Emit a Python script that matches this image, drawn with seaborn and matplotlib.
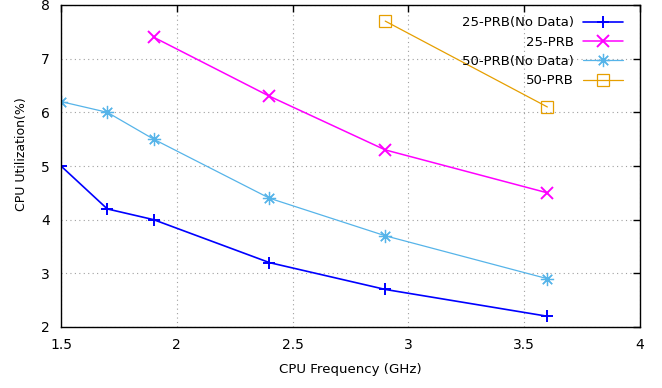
import matplotlib
matplotlib.use("Agg")
import matplotlib.pyplot as plt
import seaborn as sns
import pandas as pd

freq_nd = [1.5, 1.7, 1.9, 2.4, 2.9, 3.6]
prb25_nd = [5.0, 4.2, 4.0, 3.2, 2.7, 2.2]
freq_25 = [1.9, 2.4, 2.9, 3.6]
prb25 = [7.4, 6.3, 5.3, 4.5]
prb50_nd = [6.2, 6.0, 5.5, 4.4, 3.7, 2.9]
freq_50 = [2.9, 3.6]
prb50 = [7.7, 6.1]

series_names = ["25-PRB(No Data)", "25-PRB", "50-PRB(No Data)", "50-PRB"]
x_ticks = [1.5, 2, 2.5, 3, 3.5, 4]
x_tick_labels = ["1.5", "2", "2.5", "3", "3.5", "4"]
y_ticks = [2, 3, 4, 5, 6, 7, 8]

sns.set_theme(style="white")
plt.rcParams['font.family'] = ['DejaVu Sans']
plt.rcParams['text.color'] = 'black'

fig = plt.figure(figsize=(6.62, 3.88), dpi=100)
ax = fig.add_axes([61/662, 61/388, (640-61)/662, (327-5)/388])

styles = [
    (freq_nd, prb25_nd, "#0000ff", "+", 1.2, 9, 1.4),
    (freq_25, prb25, "#ff00ff", "x", 1.1, 8, 1.4),
    (freq_nd, prb50_nd, "#56b4e9", (8, 2, 0), 0.9, 9.5, 0.9),
    (freq_50, prb50, "#e69f00", "s", 0.9, 8.5, 0.9),
]
for (xs, ys, c, m, lw, ms, mew), name in zip(styles, series_names):
    df = pd.DataFrame({"x": xs, "y": ys})
    sns.lineplot(data=df, x="x", y="y", ax=ax, color=c, marker=m, linewidth=lw,
                 markersize=ms, markeredgewidth=mew, markerfacecolor="none",
                 markeredgecolor=c, label=name)

ax.set_xlim(1.5, 4)
ax.set_ylim(2, 8)
ax.set_xticks(x_ticks)
ax.set_xticklabels(x_tick_labels)
ax.set_yticks(y_ticks)
ax.tick_params(direction="in", top=True, right=True, length=5, width=1,
               labelsize=10, colors="black", pad=8)
for s in ax.spines.values():
    s.set_color("black")
    s.set_linewidth(1)
ax.grid(True, linestyle=(0, (1, 3)), color="#a0a0a0", linewidth=0.8)
ax.set_xlabel("CPU Frequency (GHz)", fontsize=9.6, color="black")
ax.set_ylabel("CPU Utilization(%)", fontsize=9.0, color="black")
ax.xaxis.set_label_coords(0.5, -(370 - 327) / 322, transform=ax.transAxes)
ax.xaxis.label.set_va("center")
ax.yaxis.set_label_coords((22 - 61) / 579, (327 - 154) / 322, transform=ax.transAxes)
ax.yaxis.label.set_va("center")

leg = ax.legend(loc="upper right", frameon=False, markerfirst=False, fontsize=9.5,
                handlelength=3.0, handletextpad=0.7, borderaxespad=0, borderpad=0,
                labelspacing=0.48, bbox_to_anchor=(0.9706, 0.965))
for t in leg.get_texts():
    t.set_ha("right")
    t.set_color("black")

fig.savefig("out.png", dpi=100)
